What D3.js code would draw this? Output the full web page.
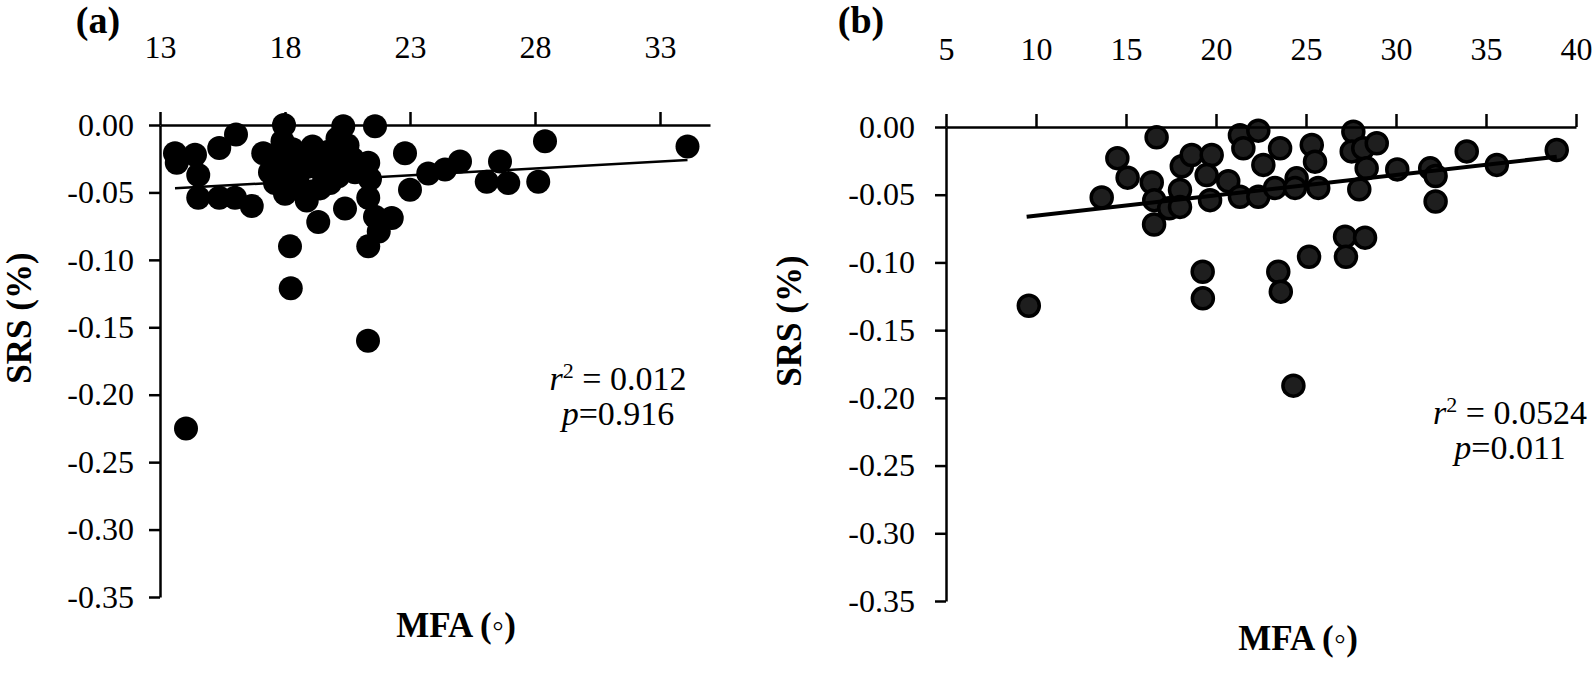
<!DOCTYPE html>
<html><head><meta charset="utf-8">
<script src="https://cdn.jsdelivr.net/npm/d3@7"></script>
<style>
body{margin:0;background:#fff}
svg{display:block}
text{font-family:"Liberation Serif","Times New Roman",serif;fill:#000}
</style></head><body>
<svg id="c" width="1594" height="674"></svg>
<script>
// ---------- data ----------
const yTicks = [0, -0.05, -0.10, -0.15, -0.20, -0.25, -0.30, -0.35];
const xTicksA = [13, 18, 23, 28, 33];
const xTicksB = [5, 10, 15, 20, 25, 30, 35, 40];

// panel (a): MFA (deg) and SRS (%)
const aMFA = [13.6,13.67,14.4,14.53,14.53,15.37,16.04,15.37,16.0,16.67,17.13,17.96,18.0,18.2,18.23,18.87,19.33,20.33,21.33,21.6,
  20.4,21.33,22.27,21.33,22.8,23.0,21.32,14.04,23.73,24.4,25.0,26.07,26.6,26.93,28.13,28.4,34.1,21.6,21.75,20.2,
  20.13,19.4,17.4,17.6,17.8,17.9,18.0,18.1,18.3,18.4,18.5,18.7,18.9,19.1,19.2,19.5,19.7,19.9,20.1,20.5,
  20.7,20.8,18.6,19.8,21.4];
const aSRS = [-0.021,-0.028,-0.022,-0.037,-0.054,-0.017,-0.007,-0.054,-0.054,-0.060,-0.021,0.000,-0.051,-0.090,-0.121,-0.056,-0.072,-0.001,-0.028,-0.001,
  -0.062,-0.054,-0.069,-0.090,-0.021,-0.048,-0.160,-0.225,-0.036,-0.033,-0.027,-0.042,-0.027,-0.043,-0.042,-0.012,-0.016,-0.068,-0.079,-0.0185,
  -0.038,-0.047,-0.035,-0.043,-0.025,-0.012,-0.033,-0.042,-0.018,-0.028,-0.038,-0.022,-0.031,-0.016,-0.025,-0.035,-0.020,-0.028,-0.010,-0.015,
  -0.025,-0.035,-0.047,-0.043,-0.040];

// panel (b)
const bMFA = [16.7,14.52,15.09,13.65,16.43,16.57,16.56,17.4,18.1,18.0,21.33,22.35,21.52,18.65,19.76,19.48,20.68,18.0,19.67,21.33,
  22.35,23.28,22.63,23.56,25.32,25.5,24.48,24.39,25.68,27.63,27.54,28.18,28.93,28.37,27.96,30.07,31.9,32.2,32.2,33.93,
  35.6,38.93,27.17,28.28,27.22,25.17,23.46,19.26,9.6,19.27,23.6,24.3];
const bSRS = [-0.0076,-0.023,-0.0374,-0.052,-0.041,-0.054,-0.072,-0.060,-0.029,-0.0465,-0.006,-0.0027,-0.0157,-0.0207,-0.0207,-0.0355,-0.040,-0.059,-0.054,-0.0515,
  -0.0515,-0.045,-0.028,-0.0157,-0.0133,-0.0256,-0.0379,-0.045,-0.045,-0.0035,-0.018,-0.0157,-0.012,-0.0305,-0.046,-0.0313,-0.0305,-0.0362,-0.055,-0.018,
  -0.028,-0.017,-0.081,-0.0817,-0.0958,-0.0958,-0.1069,-0.1069,-0.132,-0.1265,-0.1216,-0.191];

// fitted trend lines (x start/end, y start/end)
const fitAx = [13.6, 34.1], fitAy = [-0.0469, -0.026];
const fitBx = [9.48, 38.93], fitBy = [-0.0663, -0.0219];

const statsA = ["0.012", "0.916"];
const statsB = ["0.0524", "0.011"];

// ---------- drawing ----------
const svg = d3.select("#c");

function panel(cfg) {
  const g = svg.append("g");
  const x = d3.scaleLinear().domain(cfg.xDomain).range(cfg.xRange);
  const y = d3.scaleLinear().domain([0, -0.35]).range(cfg.yRange);

  // points
  g.append("g").selectAll("circle")
    .data(d3.range(cfg.xs.length))
    .join("circle")
    .attr("cx", i => x(cfg.xs[i]))
    .attr("cy", i => y(cfg.ys[i]))
    .attr("r", cfg.r)
    .attr("fill", cfg.fill)
    .attr("stroke", cfg.stroke)
    .attr("stroke-width", cfg.sw);

  // trend line
  g.append("line")
    .attr("x1", x(cfg.fx[0])).attr("y1", y(cfg.fy[0]))
    .attr("x2", x(cfg.fx[1])).attr("y2", y(cfg.fy[1]))
    .attr("stroke", "#000").attr("stroke-width", cfg.lw);

  // axes
  const xa = g.append("g").attr("transform", `translate(0,${cfg.yRange[0]})`)
    .call(d3.axisTop(x).tickValues(cfg.xTicks).tickSize(13).tickSizeOuter(0).tickPadding(cfg.xPad).tickFormat(d3.format("d")));
  const ya = g.append("g").attr("transform", `translate(${cfg.xRange[0]},0)`)
    .call(d3.axisLeft(y).tickValues(yTicks).tickSize(11).tickSizeOuter(0).tickPadding(cfg.yPad).tickFormat(d => d.toFixed(2)));
  [xa, ya].forEach(a => {
    a.selectAll("path,line").attr("stroke", "#000").attr("stroke-width", 2.5);
    a.selectAll("text").attr("font-size", 32).attr("font-family", "Liberation Serif").attr("fill", "#000");
  });

  // panel label
  g.append("text").attr("x", cfg.lab[0]).attr("y", cfg.lab[1])
    .attr("text-anchor", "middle").attr("font-size", 38).attr("font-weight", "bold").text(cfg.label);

  // axis titles
  g.append("text").attr("x", cfg.xt[0]).attr("y", cfg.xt[1])
    .attr("text-anchor", "middle").attr("font-size", 35).attr("font-weight", "bold").text("MFA (\u25E6)");
  g.append("text").attr("transform", `translate(${cfg.yt[0]},${cfg.yt[1]}) rotate(-90)`)
    .attr("text-anchor", "middle").attr("font-size", 35).attr("font-weight", "bold").text("SRS (%)");

  // stats
  const t1 = g.append("text").attr("x", cfg.st[0]).attr("y", cfg.st[1]).attr("text-anchor", "middle").attr("font-size", 34);
  t1.append("tspan").attr("font-style", "italic").text("r");
  t1.append("tspan").attr("font-size", 22).attr("dy", -12).text("2");
  t1.append("tspan").attr("dy", 12).text(" = " + cfg.stats[0]);
  const t2 = g.append("text").attr("x", cfg.st[0]).attr("y", cfg.st[1] + 35).attr("text-anchor", "middle").attr("font-size", 34);
  t2.append("tspan").attr("font-style", "italic").text("p");
  t2.append("tspan").text("=" + cfg.stats[1]);
}

panel({
  xDomain: [13, 35], xRange: [160, 710], yRange: [125, 597],
  xTicks: xTicksA, xPad: 54, yPad: 15, xs: aMFA, ys: aSRS, r: 12, fill: "#000", stroke: "none", sw: 0,
  fx: fitAx, fy: fitAy, lw: 2.5,
  label: "(a)", lab: [98, 33], xt: [456, 637], yt: [31, 318], st: [618, 390], stats: statsA
});
panel({
  xDomain: [5, 40], xRange: [946, 1576], yRange: [127, 601],
  xTicks: xTicksB, xPad: 54, yPad: 20, xs: bMFA, ys: bSRS, r: 10.5, fill: "#1e1e1e", stroke: "#000", sw: 3.5,
  fx: fitBx, fy: fitBy, lw: 4,
  label: "(b)", lab: [861, 33], xt: [1298, 650], yt: [801, 321], st: [1510, 424], stats: statsB
});
</script>
</body></html>
